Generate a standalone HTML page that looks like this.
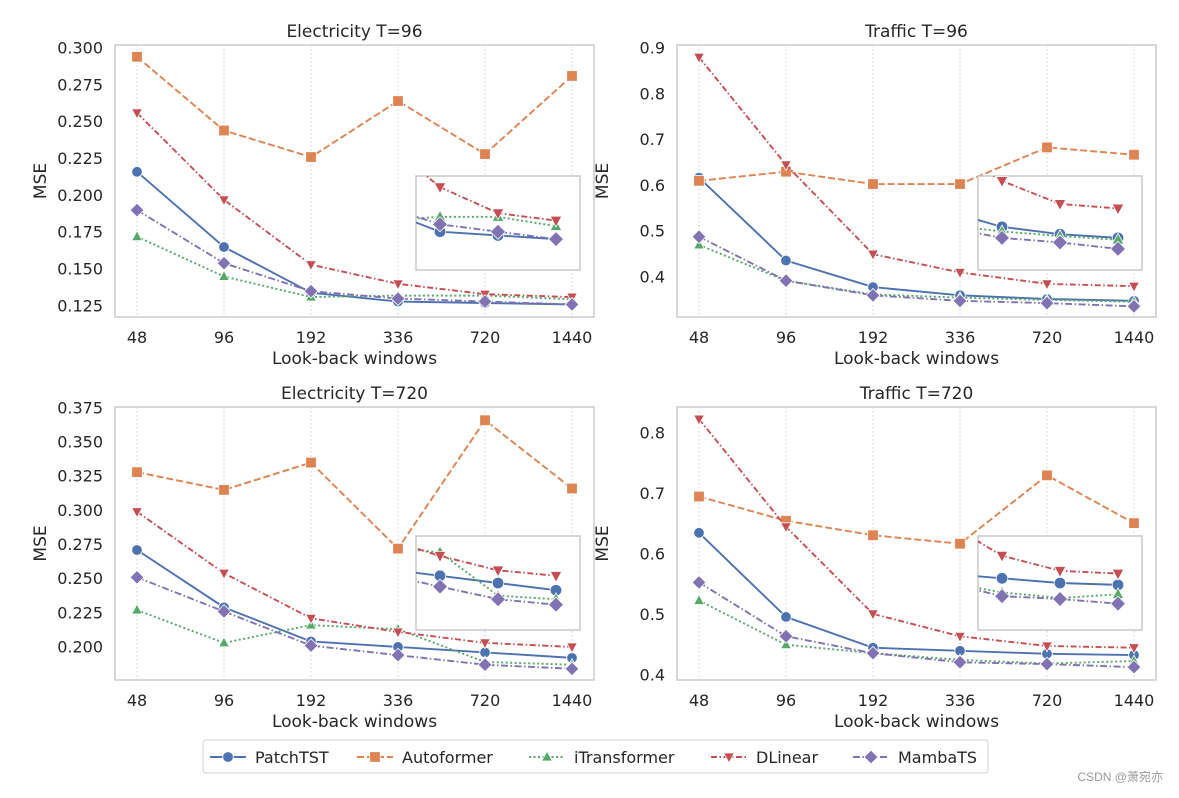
<!DOCTYPE html>
<html><head><meta charset="utf-8"><style>
body{margin:0;background:#fff;}
svg text{font-family:"DejaVu Sans","Liberation Sans",sans-serif;fill:#262626;}
</style></head><body>
<svg id="c" width="1179" height="793" xmlns="http://www.w3.org/2000/svg"></svg>
<script>
const categories=["48","96","192","336","720","1440"];
const seriesNames=["PatchTST","Autoformer","iTransformer","DLinear","MambaTS"];
const panelTitles=["Electricity T=96","Traffic T=96","Electricity T=720","Traffic T=720"];
const elec96Patch=[0.216,0.165,0.134,0.128,0.127,0.126];
const elec96Auto=[0.294,0.244,0.226,0.264,0.228,0.281];
const elec96ITr=[0.172,0.145,0.131,0.132,0.132,0.1295];
const elec96DLin=[0.256,0.197,0.153,0.140,0.133,0.131];
const elec96Mamba=[0.190,0.154,0.135,0.130,0.128,0.126];
const traf96Patch=[0.617,0.436,0.378,0.360,0.352,0.348];
const traf96Auto=[0.610,0.630,0.603,0.603,0.683,0.667];
const traf96ITr=[0.470,0.392,0.362,0.355,0.350,0.346];
const traf96DLin=[0.880,0.645,0.450,0.410,0.385,0.380];
const traf96Mamba=[0.488,0.392,0.360,0.348,0.343,0.336];
const elec720Patch=[0.271,0.229,0.204,0.2,0.196,0.192];
const elec720Auto=[0.328,0.315,0.335,0.272,0.366,0.316];
const elec720ITr=[0.227,0.203,0.216,0.213,0.189,0.187];
const elec720DLin=[0.299,0.254,0.221,0.211,0.203,0.200];
const elec720Mamba=[0.251,0.226,0.201,0.194,0.187,0.184];
const traf720Patch=[0.635,0.496,0.445,0.440,0.435,0.433];
const traf720Auto=[0.695,0.655,0.631,0.617,0.730,0.651];
const traf720ITr=[0.523,0.450,0.436,0.425,0.419,0.423];
const traf720DLin=[0.823,0.645,0.501,0.464,0.448,0.445];
const traf720Mamba=[0.553,0.464,0.436,0.421,0.418,0.413];
const ticksElec96=[0.125,0.150,0.175,0.200,0.225,0.250,0.275,0.300];
const ticksTraf96=[0.4,0.5,0.6,0.7,0.8,0.9];
const ticksElec720=[0.200,0.225,0.250,0.275,0.300,0.325,0.350,0.375];
const ticksTraf720=[0.4,0.5,0.6,0.7,0.8];

const colors=["#4c72b0","#dd8452","#55a868","#c44e52","#8172b3"];
const dashes=["","7,3","2,2.5","6,2.5,1.5,2.5","7,2.5,1.5,2.5"];
const markers=["circle","square","tri-up","tri-down","diamond"];
const panels=[
 {L:115,R:594,T:45,B:317,dom:[0.1175,0.302],ticks:ticksElec96,dec:3,data:[elec96Patch,elec96Auto,elec96ITr,elec96DLin,elec96Mamba],inset:{L:416,R:580,T:176,B:270,dom:[0.1177,0.143]}},
 {L:677,R:1156,T:45,B:317,dom:[0.3127,0.9066],ticks:ticksTraf96,dec:1,data:[traf96Patch,traf96Auto,traf96ITr,traf96DLin,traf96Mamba],inset:{L:978,R:1142,T:176,B:270,dom:[0.313,0.4154]}},
 {L:115,R:594,T:407,B:680,dom:[0.1758,0.3757],ticks:ticksElec720,dec:3,data:[elec720Patch,elec720Auto,elec720ITr,elec720DLin,elec720Mamba],inset:{L:416,R:580,T:536,B:630,dom:[0.170,0.222]}},
 {L:677,R:1156,T:407,B:680,dom:[0.3917,0.843],ticks:ticksTraf720,dec:1,data:[traf720Patch,traf720Auto,traf720ITr,traf720DLin,traf720Mamba],inset:{L:978,R:1142,T:536,B:630,dom:[0.385,0.485]}}
];
const svg=document.getElementById('c');
const NS="http://www.w3.org/2000/svg";
function mk(tag,attrs,parent){const e=document.createElementNS(NS,tag);for(const k in attrs)e.setAttribute(k,attrs[k]);(parent||svg).appendChild(e);return e;}
function marker(kind,x,y,s,col,parent){
 let e;
 if(kind==="circle")e=mk('circle',{cx:x,cy:y,r:s},parent);
 else if(kind==="square")e=mk('rect',{x:x-s,y:y-s,width:2*s,height:2*s},parent);
 else if(kind==="tri-up")e=mk('polygon',{points:`${x},${y-s*1.1} ${x+s},${y+s*0.75} ${x-s},${y+s*0.75}`},parent);
 else if(kind==="tri-down")e=mk('polygon',{points:`${x},${y+s*1.1} ${x+s},${y-s*0.75} ${x-s},${y-s*0.75}`},parent);
 else e=mk('polygon',{points:`${x},${y-s*1.3} ${x+s*1.3},${y} ${x},${y+s*1.3} ${x-s*1.3},${y}`},parent);
 e.setAttribute('fill',col);e.setAttribute('stroke','#fff');e.setAttribute('stroke-width','0.8');
 return e;
}
panels.forEach((p,pi)=>{
 const g=mk('g',{});
 
 
 const xs=i=>p.L+22+i*((p.R-p.L-44)/5);
 const ys=v=>p.B-(v-p.dom[0])/(p.dom[1]-p.dom[0])*(p.B-p.T);
 categories.forEach((c,i)=>{
  mk('line',{x1:xs(i),x2:xs(i),y1:p.T,y2:p.B,stroke:'#cccccc','stroke-width':1,'stroke-dasharray':'1.5,2.5'},g);
  const t=mk('text',{x:xs(i),y:p.B+26,'text-anchor':'middle','font-size':16},g);t.textContent=c;
  
 });
 p.ticks.forEach(v=>{
  const t=mk('text',{x:p.L-12,y:ys(v)+5.5,'text-anchor':'end','font-size':16},g);t.textContent=v.toFixed(p.dec);
  
 });
 mk('rect',{x:p.L,y:p.T,width:p.R-p.L,height:p.B-p.T,fill:'none',stroke:'#cccccc','stroke-width':1.5},g);
 const tt=mk('text',{x:(p.L+p.R)/2,y:p.T-8,'text-anchor':'middle','font-size':17},g);tt.textContent=panelTitles[pi];
 
 const xl=mk('text',{x:(p.L+p.R)/2,y:p.B+47,'text-anchor':'middle','font-size':17},g);xl.textContent='Look-back windows';
 
 const yl=mk('text',{x:0,y:0,'text-anchor':'middle','font-size':17,transform:`translate(${p.L-69},${(p.T+p.B)/2}) rotate(-90)`},g);yl.textContent='MSE';
 
 p.data.forEach((arr,si)=>{
  const pts=arr.map((v,i)=>xs(i)+','+ys(v)).join(' ');
  const l=mk('polyline',{points:pts,fill:'none',stroke:colors[si],'stroke-width':1.9,'stroke-dasharray':dashes[si]},g);
  
  
  arr.forEach((v,i)=>{const m=marker(markers[si],xs(i),ys(v),5.3,colors[si],g);
   
   });
 });
 const ins=p.inset;
 const ig=mk('g',{},g);
 
 
 mk('rect',{x:ins.L,y:ins.T,width:ins.R-ins.L,height:ins.B-ins.T,fill:'#fff',stroke:'#c8c8c8','stroke-width':1.5},ig);
 const cid='clip'+pi;
 const cp=mk('clipPath',{id:cid},ig);mk('rect',{x:ins.L,y:ins.T,width:ins.R-ins.L,height:ins.B-ins.T},cp);
 const ixs=i=>ins.L+24+(i-3)*58;
 const iys=v=>ins.B-(v-ins.dom[0])/(ins.dom[1]-ins.dom[0])*(ins.B-ins.T);
 const cg=mk('g',{'clip-path':`url(#${cid})`},ig);
 p.data.forEach((arr,si)=>{
  const pts=arr.map((v,i)=>ixs(i)+','+iys(v)).slice(2).join(' ');
  const l=mk('polyline',{points:pts,fill:'none',stroke:colors[si],'stroke-width':1.9,'stroke-dasharray':dashes[si]},cg);
  
  
  arr.forEach((v,i)=>{if(i<3)return;const m=marker(markers[si],ixs(i),iys(v),5.8,colors[si],cg);
   
   });
 });
});
const lg=mk('g',{});


mk('rect',{x:203,y:740,width:785,height:33,rx:3,fill:'#fff',stroke:'#d0d0d0','stroke-width':1},lg);
const lx=[210,357,529,711,853];
seriesNames.forEach((n,si)=>{
 const e=mk('g',{},lg);
 
 
 mk('line',{x1:lx[si],x2:lx[si]+36,y1:757,y2:757,stroke:colors[si],'stroke-width':1.9,'stroke-dasharray':dashes[si]},e);
 marker(markers[si],lx[si]+18,757,5.3,colors[si],e);
 const t=mk('text',{x:lx[si]+45,y:763,'font-size':16},e);t.textContent=n;
});
const w=mk('text',{x:1163,y:781,'text-anchor':'end','font-size':12,style:'font-family:"Liberation Sans","Noto Sans CJK SC",sans-serif;fill:#999'});
w.textContent='CSDN @萧宛亦';


</script>
</body></html>
